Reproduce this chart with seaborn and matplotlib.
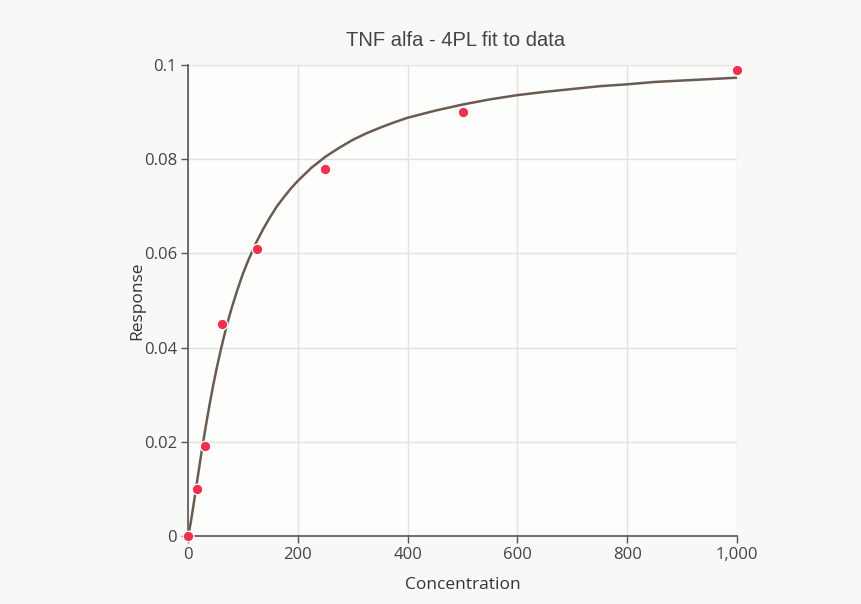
import numpy as np
import pandas as pd
import matplotlib
matplotlib.use("Agg")
import matplotlib.pyplot as plt
from matplotlib.ticker import FuncFormatter
import seaborn as sns

# measured standards
conc = [0, 15.625, 31.25, 62.5, 125, 250, 500, 1000]
resp = [0, 0.010, 0.019, 0.045, 0.061, 0.078, 0.090, 0.099]

# fitted 4PL curve
fit_x = [0, 5, 10, 15, 20, 25, 30, 35, 40, 45, 50, 55, 60, 65, 70, 75, 80, 90,
         100, 110, 125, 137.5, 150, 162.5, 175, 187.5, 200, 225, 250, 275, 300,
         325, 350, 375, 400, 450, 500, 550, 600, 650, 700, 750, 800, 850, 900,
         950, 1000]
fit_y = [0, 0.0029, 0.0066, 0.0105, 0.0143, 0.0181, 0.0217, 0.0251, 0.0284,
         0.0315, 0.0344, 0.0371, 0.0397, 0.0421, 0.0444, 0.0466, 0.0486,
         0.0523, 0.0557, 0.0586, 0.0625, 0.0653, 0.0678, 0.0701, 0.0720,
         0.0738, 0.0754, 0.0782, 0.0805, 0.0824, 0.0841, 0.0855, 0.0867,
         0.0878, 0.0888, 0.0903, 0.0916, 0.0927, 0.0936, 0.0943, 0.0949,
         0.0955, 0.0959, 0.0964, 0.0967, 0.0970, 0.0973]

x_ticks = [0, 200, 400, 600, 800, 1000]
y_ticks = [0, 0.02, 0.04, 0.06, 0.08, 0.1]

sns.set_style("white")
plt.rcParams['font.family'] = ['Open Sans', 'DejaVu Sans']

pts = pd.DataFrame({"Concentration": conc, "Response": resp})
curve = pd.DataFrame({"Concentration": fit_x, "Response": fit_y})

fig = plt.figure(figsize=(8.61, 6.04), dpi=100, facecolor="#f8f8f7")
ax = fig.add_axes([0.2184, 0.1126, 0.6376, 0.7798])
ax.set_facecolor("#fdfdfc")

sns.lineplot(data=curve, x="Concentration", y="Response", ax=ax,
             color="#6a5c52", linewidth=1.8, zorder=3)
sns.scatterplot(data=pts, x="Concentration", y="Response", ax=ax,
                color="#f0304c", s=58, edgecolor="white", linewidth=0.9,
                zorder=4, clip_on=False)

ax.set_xlim(0, 1000)
ax.set_ylim(0, 0.1)
ax.set_xticks(x_ticks)
ax.set_yticks(y_ticks)
ax.xaxis.set_major_formatter(FuncFormatter(lambda v, p: "{:,}".format(int(v))))
ax.yaxis.set_major_formatter(FuncFormatter(lambda v, p: "0" if v == 0 else "{:g}".format(round(v, 2))))

ax.grid(True, color="#e2e2e2", linewidth=1)
ax.set_axisbelow(True)
for s in ["top", "right"]:
    ax.spines[s].set_visible(False)
for s in ["left", "bottom"]:
    ax.spines[s].set_color("#555555")
    ax.spines[s].set_linewidth(1.2)

ax.tick_params(axis="both", direction="out", length=5, width=1, color="#555555",
               labelsize=12, labelcolor="#444444", pad=3, left=True, bottom=True)

ax.set_xlabel("Concentration", fontsize=12.5, color="#333333", labelpad=10)
ax.set_ylabel("Response", fontsize=12.5, color="#333333", labelpad=-1)
ax.set_title("TNF alfa - 4PL fit to data", fontsize=14.5, color="#444444", pad=14,
             x=0.487, family=["Liberation Sans", "DejaVu Sans"])

plt.savefig("out.png", dpi=100, facecolor=fig.get_facecolor())
